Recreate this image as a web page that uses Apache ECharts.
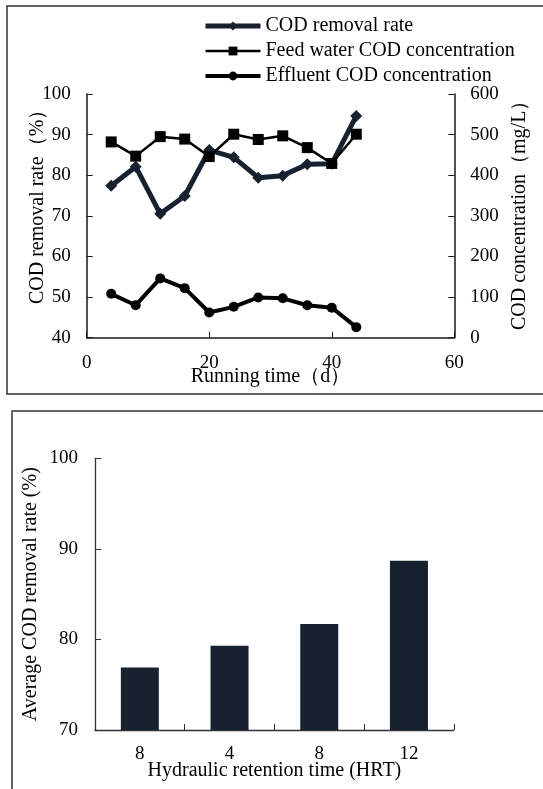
<!DOCTYPE html>
<html>
<head>
<meta charset="utf-8">
<script src="https://cdn.jsdelivr.net/npm/echarts@6/dist/echarts.min.js"></script>
<style>
html,body{margin:0;padding:0;background:#fff;}
#c{width:543px;height:789px;}
</style>
</head>
<body>
<div id="c"></div>
<script>
// ---- Top chart data ----
var days = [4, 8, 12, 16, 20, 24, 28, 32, 36, 40, 44];
var removalRate = [77.4, 82.1, 70.5, 74.9, 86.2, 84.4, 79.4, 79.9, 82.7, 82.8, 94.6];
var feedCOD = [482, 447, 495, 489, 446, 501, 488, 497, 468, 429, 501];
var effluentCOD = [108, 80, 146, 122, 62, 76, 99, 97, 80, 74, 26];
var seriesNames = ['COD removal rate', 'Feed water COD concentration', 'Effluent COD concentration'];

// ---- Bottom chart data ----
var hrtLabels = ['8', '4', '8', '12'];
var avgRemoval = [76.9, 79.3, 81.7, 88.7];

var FONT = '"Liberation Serif", "Times New Roman", serif';
var NAVY = '#17212f';

function pairs(xs, ys) { return xs.map(function (x, i) { return [x, ys[i]]; }); }

var axisLineTop = { show: true, lineStyle: { color: '#1a1a1a', width: 1.5 } };
var axisLineBot = { show: true, lineStyle: { color: '#333', width: 1.3 } };
var lbl = { color: '#000', fontFamily: FONT, fontSize: 19, margin: 16 };
var lineWidths = [5, 2.5, 4];

var chart = echarts.init(document.getElementById('c'), null, { renderer: 'canvas' });
chart.setOption({
  backgroundColor: '#fff',
  animation: false,
  graphic: [
    { type: 'rect', shape: { x: 7, y: 6, width: 545, height: 388 }, style: { fill: 'none', stroke: '#333', lineWidth: 1.5 }, silent: true },
    { type: 'rect', shape: { x: 12, y: 411, width: 545, height: 420 }, style: { fill: 'none', stroke: '#333', lineWidth: 1.5 }, silent: true }
  ],
  legend: {
    orient: 'vertical',
    left: 203,
    top: 16,
    padding: 0,
    itemWidth: 55,
    itemHeight: 11,
    itemGap: 5,
    data: seriesNames.map(function (n, i) {
      return { name: n, lineStyle: { width: lineWidths[i] } };
    }),
    textStyle: { color: '#000', fontFamily: FONT, fontSize: 20, lineHeight: 20 }
  },
  grid: [
    { left: 86.7, top: 94, width: 367.6, height: 243.7 },
    { left: 95, top: 458.3, width: 358.8, height: 271.7 }
  ],
  xAxis: [
    {
      type: 'value', gridIndex: 0, min: 0, max: 60, interval: 20,
      axisLine: axisLineTop, axisTick: { show: true, inside: true, length: 6, lineStyle: { color: '#1a1a1a' } },
      splitLine: { show: false }, axisLabel: lbl,
      name: 'Running time（d）', nameLocation: 'middle', nameGap: 29, nameMoveOverlap: false,
      nameTextStyle: { color: '#000', fontFamily: FONT, fontSize: 20 }
    },
    {
      type: 'category', gridIndex: 1, data: hrtLabels,
      axisLine: axisLineBot, axisTick: { show: true, inside: true, length: 6, lineStyle: { color: '#333' } },
      splitLine: { show: false }, axisLabel: { color: '#000', fontFamily: FONT, fontSize: 19, margin: 15 },
      name: 'Hydraulic retention time (HRT)', nameLocation: 'middle', nameGap: 31, nameMoveOverlap: false,
      nameTextStyle: { color: '#000', fontFamily: FONT, fontSize: 20 }
    }
  ],
  yAxis: [
    {
      type: 'value', gridIndex: 0, min: 40, max: 100, interval: 10, position: 'left',
      axisLine: axisLineTop, axisTick: { show: true, inside: true, length: 6, lineStyle: { color: '#1a1a1a' } },
      splitLine: { show: false }, axisLabel: lbl,
      name: 'COD removal rate（%）', nameLocation: 'middle', nameGap: 39, nameRotate: 90, nameMoveOverlap: false,
      nameTextStyle: { color: '#000', fontFamily: FONT, fontSize: 20, padding: [0, 0, 0, 28] }
    },
    {
      type: 'value', gridIndex: 0, min: 0, max: 600, interval: 100, position: 'right',
      axisLine: axisLineTop, axisTick: { show: true, inside: true, length: 6, lineStyle: { color: '#1a1a1a' } },
      splitLine: { show: false }, axisLabel: lbl,
      name: 'COD concentration（mg/L）', nameLocation: 'middle', nameGap: 55, nameRotate: 90, nameMoveOverlap: false,
      nameTextStyle: { color: '#000', fontFamily: FONT, fontSize: 20, padding: [0, 0, 0, 11] }
    },
    {
      type: 'value', gridIndex: 1, min: 70, max: 100, interval: 10,
      axisLine: axisLineBot, axisTick: { show: true, inside: true, length: 6, lineStyle: { color: '#333' } },
      splitLine: { show: false }, axisLabel: { color: '#000', fontFamily: FONT, fontSize: 19, margin: 17 },
      name: 'Average COD removal rate (%)', nameLocation: 'middle', nameGap: 54, nameRotate: 90, nameMoveOverlap: false,
      nameTextStyle: { color: '#000', fontFamily: FONT, fontSize: 20 }
    }
  ],
  series: [
    {
      name: seriesNames[0], type: 'line', xAxisIndex: 0, yAxisIndex: 0,
      data: pairs(days, removalRate),
      symbol: 'diamond', symbolSize: 12,
      lineStyle: { color: NAVY, width: lineWidths[0] }, itemStyle: { color: NAVY }
    },
    {
      name: seriesNames[1], type: 'line', xAxisIndex: 0, yAxisIndex: 1,
      data: pairs(days, feedCOD),
      symbol: 'rect', symbolSize: 11,
      lineStyle: { color: '#000', width: lineWidths[1] }, itemStyle: { color: '#000' }
    },
    {
      name: seriesNames[2], type: 'line', xAxisIndex: 0, yAxisIndex: 1,
      data: pairs(days, effluentCOD),
      symbol: 'circle', symbolSize: 10,
      lineStyle: { color: '#000', width: lineWidths[2] }, itemStyle: { color: '#000' }
    },
    {
      type: 'bar', xAxisIndex: 1, yAxisIndex: 2,
      data: avgRemoval, barWidth: 38,
      itemStyle: { color: NAVY }
    }
  ]
});
</script>
</body>
</html>
